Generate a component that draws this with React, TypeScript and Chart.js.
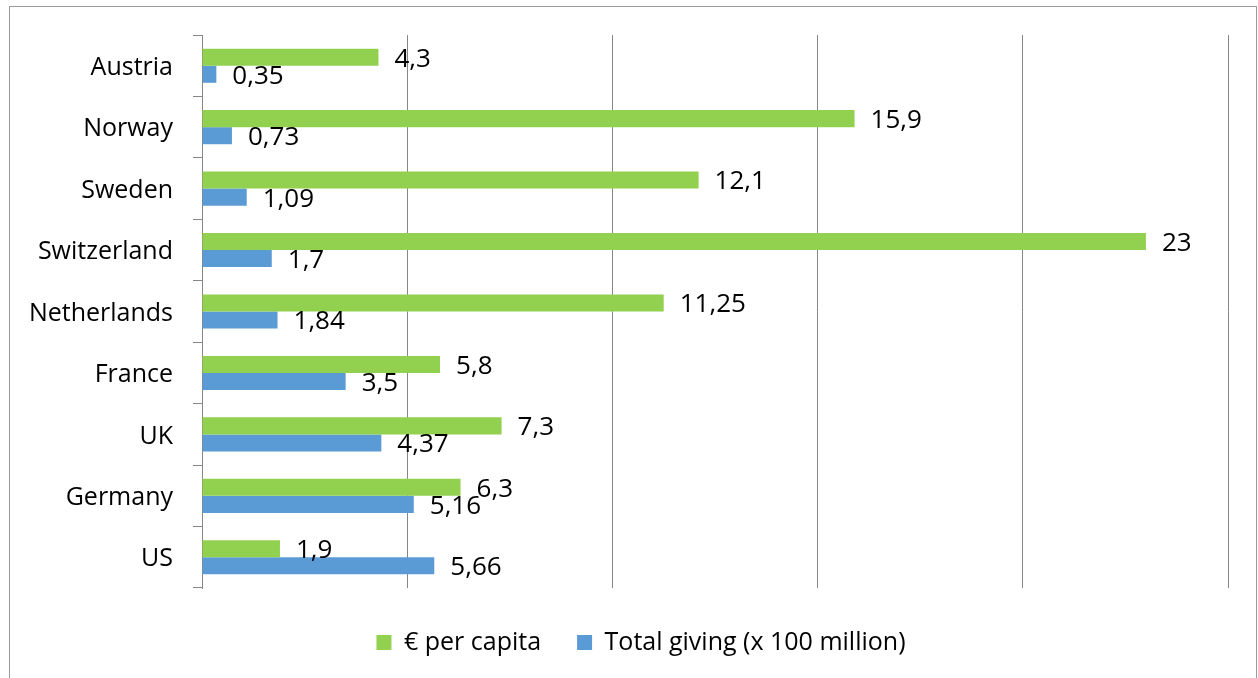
import React, { useEffect, useRef } from "react";
import { Chart, registerables } from "chart.js";

Chart.register(...registerables);

const categories = ["Austria", "Norway", "Sweden", "Switzerland", "Netherlands", "France", "UK", "Germany", "US"];
const perCapita = [4.3, 15.9, 12.1, 23, 11.25, 5.8, 7.3, 6.3, 1.9];
const totalGiving = [0.35, 0.73, 1.09, 1.7, 1.84, 3.5, 4.37, 5.16, 5.66];
const seriesNames = ["€ per capita", "Total giving (x 100 million)"];
const xMin = 0;
const xMax = 25;
const xStep = 5;

const FONT = "'Open Sans', Lato, sans-serif";
const GREEN = "#92D050";
const BLUE = "#5B9BD5";
const GRID = "#868686";

const fmt = (v: number) => String(v).replace(".", ",");

const framePlugin = {
  id: "frame",
  beforeDraw(chart: any) {
    const ctx = chart.ctx;
    ctx.save();
    ctx.fillStyle = "#ffffff";
    ctx.fillRect(0, 0, chart.width, chart.height);
    ctx.strokeStyle = "#9a9a9a";
    ctx.lineWidth = 1;
    ctx.strokeRect(9.5, 6.5, 1247, 700);
    ctx.restore();
  },
};

const legendShiftPlugin = {
  id: "legendShift",
  afterLayout(chart: any) {
    const lg = chart.legend;
    if (lg) {
      lg.left += 27;
      lg.right += 27;
    }
  },
};

const valueLabelPlugin = {
  id: "valueLabels",
  afterDatasetsDraw(chart: any) {
    const ctx = chart.ctx;
    ctx.save();
    ctx.font = `26px ${FONT}`;
    ctx.fillStyle = "#000000";
    ctx.textAlign = "left";
    ctx.textBaseline = "middle";
    chart.data.datasets.forEach((ds: any, di: number) => {
      const meta = chart.getDatasetMeta(di);
      meta.data.forEach((el: any, i: number) => {
        ctx.fillText(fmt(ds.data[i]), el.x + 16, el.y + 2);
      });
    });
    ctx.restore();
  },
};

export default function App() {
  const canvasRef = useRef<HTMLCanvasElement | null>(null);

  useEffect(() => {
    document.body.style.margin = "0";
    const canvas = canvasRef.current;
    if (!canvas) return;
    const legendPad = 36;
    const chart = new Chart(canvas, {
      type: "bar",
      data: {
        labels: categories,
        datasets: [
          {
            label: seriesNames[0],
            data: perCapita,
            backgroundColor: GREEN,
            categoryPercentage: 0.555,
            barPercentage: 1,
          },
          {
            label: seriesNames[1],
            data: totalGiving,
            backgroundColor: BLUE,
            categoryPercentage: 0.555,
            barPercentage: 1,
          },
        ],
      },
      options: {
        indexAxis: "y",
        responsive: false,
        animation: false,
        devicePixelRatio: 1,
        layout: { padding: { left: 0, right: 30, top: 35, bottom: 13 } },
        scales: {
          x: {
            min: xMin,
            max: xMax,
            ticks: { display: false, stepSize: xStep },
            grid: { color: GRID, drawTicks: false, lineWidth: 1 },
            border: { display: false },
            afterFit: (s: any) => {
              s.height = 42 - legendPad;
            },
          },
          y: {
            grid: { drawOnChartArea: false, drawTicks: true, tickLength: 9, color: GRID, offset: true },
            border: { display: true, color: GRID },
            ticks: { color: "#000000", font: { size: 25, family: FONT }, padding: 20, labelOffset: 2 },
            afterFit: (s: any) => {
              s.width = 202;
            },
          },
        },
        plugins: {
          legend: {
            position: "bottom",
            labels: {
              boxWidth: 15,
              boxHeight: 15,
              padding: legendPad,
              color: "#000000",
              font: { size: 25, family: FONT },
            },
          },
          tooltip: { enabled: false },
        },
      },
      plugins: [framePlugin, legendShiftPlugin, valueLabelPlugin],
    } as any);
    return () => chart.destroy();
  }, []);

  return (
    <div style={{ width: 1258, height: 678 }}>
      <canvas ref={canvasRef} width={1258} height={678} style={{ display: "block" }} />
    </div>
  );
}
